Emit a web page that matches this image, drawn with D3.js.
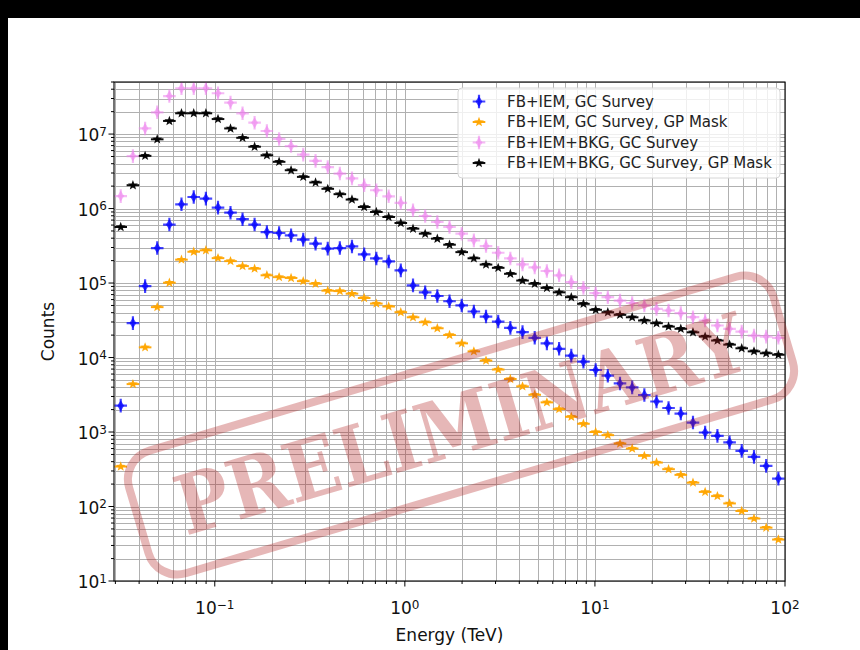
<!DOCTYPE html>
<html>
<head>
<meta charset="utf-8">
<script src="https://cdn.jsdelivr.net/npm/d3@7"></script>
<style>
  html, body { margin: 0; padding: 0; background: #000; }
  svg { display: block; }
</style>
</head>
<body>
<svg id="chart" width="860" height="650"></svg>
<script>
// Bin centres (TeV)
const energy = [0.0320, 0.0371, 0.0430, 0.0498, 0.0577, 0.0668, 0.0775, 0.0898, 0.104, 0.121,
  0.140, 0.162, 0.188, 0.218, 0.252, 0.292, 0.339, 0.393, 0.455, 0.527,
  0.611, 0.708, 0.822, 0.952, 1.104, 1.279, 1.482, 1.718, 1.991, 2.307,
  2.673, 3.098, 3.590, 4.160, 4.822, 5.588, 6.48, 7.51, 8.70, 10.09,
  11.69, 13.55, 15.70, 18.20, 21.09, 24.4, 28.3, 32.8, 38.0, 44.1,
  51.1, 59.2, 68.7, 79.6, 92.3];

// Counts per bin for each configuration
const fbIemGc = [2.26e3, 2.9e4, 9.1e4, 2.95e5, 6.1e5, 1.14e6, 1.43e6, 1.36e6, 1.03e6, 8.8e5,
  7.2e5, 6.1e5, 4.84e5, 4.7e5, 4.37e5, 3.83e5, 3.38e5, 2.9e5, 2.95e5, 3.1e5,
  2.43e5, 2.14e5, 1.95e5, 1.48e5, 9.3e4, 7.5e4, 6.7e4, 5.7e4, 5.0e4, 4.15e4,
  3.55e4, 3.04e4, 2.5e4, 2.19e4, 1.84e4, 1.55e4, 1.31e4, 1.06e4, 8.8e3, 6.8e3,
  5.7e3, 4.49e3, 3.97e3, 3.14e3, 2.57e3, 2.1e3, 1.77e3, 1.34e3, 985, 889,
  727, 558, 464, 351, 237];

const fbIemGcMask = [344, 4.4e3, 1.37e4, 4.75e4, 1.01e5, 2.06e5, 2.63e5, 2.75e5, 2.16e5, 1.97e5,
  1.69e5, 1.56e5, 1.27e5, 1.2e5, 1.17e5, 1.06e5, 9.8e4, 7.9e4, 7.8e4, 7.2e4,
  6.3e4, 5.3e4, 4.84e4, 4.06e4, 3.47e4, 2.98e4, 2.47e4, 2.01e4, 1.55e4, 1.21e4,
  9.1e3, 6.9e3, 5.15e3, 4.1e3, 3.16e3, 2.5e3, 2.03e3, 1.6e3, 1.29e3, 1.0e3,
  908, 700, 600, 479, 389, 317, 266, 209, 157, 138,
  110, 87, 69, 52, 36];

const fbIemBkgGc = [1.47e6, 5.06e6, 1.19e7, 1.96e7, 3.24e7, 4.12e7, 4.12e7, 4.12e7, 3.53e7, 2.64e7,
  1.9e7, 1.42e7, 1.1e7, 8.6e6, 6.9e6, 5.3e6, 4.36e6, 3.6e6, 2.95e6, 2.54e6,
  2.06e6, 1.76e6, 1.46e6, 1.19e6, 9.5e5, 7.95e5, 6.6e5, 5.65e5, 4.6e5, 3.74e5,
  3.14e5, 2.55e5, 2.14e5, 1.78e5, 1.62e5, 1.45e5, 1.27e5, 1.03e5, 8.6e4, 7.3e4,
  6.46e4, 5.8e4, 5.4e4, 5.0e4, 4.5e4, 4.28e4, 3.94e4, 3.48e4, 3.14e4, 2.69e4,
  2.43e4, 2.23e4, 1.97e4, 1.91e4, 1.84e4];

const fbIemBkgGcMask = [5.65e5, 2.06e6, 5.1e6, 8.5e6, 1.5e7, 1.9e7, 1.9e7, 1.9e7, 1.59e7, 1.19e7,
  8.9e6, 6.76e6, 5.2e6, 4.24e6, 3.27e6, 2.66e6, 2.24e6, 1.84e6, 1.56e6, 1.32e6,
  1.05e6, 9.0e5, 7.7e5, 6.4e5, 5.37e5, 4.6e5, 3.94e5, 3.27e5, 2.6e5, 2.15e5,
  1.77e5, 1.6e5, 1.33e5, 1.08e5, 9.8e4, 8.6e4, 7.5e4, 6.46e4, 5.26e4, 4.37e4,
  4.06e4, 3.74e4, 3.47e4, 3.14e4, 2.89e4, 2.6e4, 2.43e4, 2.18e4, 1.91e4, 1.69e4,
  1.49e4, 1.33e4, 1.21e4, 1.14e4, 1.09e4];

const seriesLabels = ["FB+IEM, GC Survey", "FB+IEM, GC Survey, GP Mask",
  "FB+IEM+BKG, GC Survey", "FB+IEM+BKG, GC Survey, GP Mask"];
const xTickExps = [-1, 0, 1, 2];
const yTickExps = [1, 2, 3, 4, 5, 6, 7];
const stampText = "PRELIMINARY";

const svg = d3.select("#chart");
const W = 860, H = 650;
const m = { left: 114, right: 785, top: 82, bottom: 581 };
const font = "'DejaVu Sans', sans-serif";

// figure background
svg.append("rect").attr("width", W).attr("height", H).attr("fill", "#000");
svg.append("rect").attr("x", 8).attr("y", 18).attr("width", W - 8).attr("height", H - 18).attr("fill", "#fff");

const x = d3.scaleLog().domain([0.0295, 100]).range([m.left, m.right]);
const y = d3.scaleLog().domain([10, 5e7]).range([m.bottom, m.top]);

const xMajor = xTickExps.map(e => Math.pow(10, e));
const yMajor = yTickExps.map(e => Math.pow(10, e));
const xMinor = [], yMinor = [];
for (let d = -2; d <= 1; d++) for (let k = 2; k <= 9; k++) {
  const v = k * Math.pow(10, d);
  if (v >= x.domain()[0] && v <= x.domain()[1]) xMinor.push(v);
}
for (let d = 1; d <= 7; d++) for (let k = 2; k <= 9; k++) {
  const v = k * Math.pow(10, d);
  if (v >= y.domain()[0] && v <= y.domain()[1]) yMinor.push(v);
}
if (xMinor.indexOf(0.03) < 0) xMinor.unshift(0.03);

const plot = svg.append("g");
plot.append("defs").append("clipPath").attr("id", "clip")
  .append("rect").attr("x", m.left).attr("y", m.top)
  .attr("width", m.right - m.left).attr("height", m.bottom - m.top);

// grid (major and minor)
const grid = plot.append("g").attr("stroke", "#b0b0b0").attr("stroke-width", 1).attr("fill", "none");
xMajor.concat(xMinor).forEach(v => {
  const px = Math.round(x(v)) + 0.5;
  grid.append("line").attr("x1", px).attr("x2", px).attr("y1", m.top).attr("y2", m.bottom);
});
yMajor.concat(yMinor).forEach(v => {
  const py = Math.round(y(v)) + 0.5;
  grid.append("line").attr("x1", m.left).attr("x2", m.right).attr("y1", py).attr("y2", py);
});

// marker shapes
function diamondCross(g, color, opacity) {
  g.append("path").attr("d", "M0,-5.5L3.4,0L0,5.5L-3.4,0Z").attr("fill", color).attr("opacity", opacity);
  g.append("path").attr("d", "M-6.3,0H6.3M0,-6.8V6.8").attr("stroke", color)
    .attr("stroke-width", 2.2).attr("opacity", opacity);
}
function starPath(ro, ri) {
  const pts = [];
  for (let i = 0; i < 10; i++) {
    const r = i % 2 === 0 ? ro : ri;
    const a = -Math.PI / 2 + i * Math.PI / 5;
    pts.push([r * Math.cos(a), r * Math.sin(a)]);
  }
  return "M" + pts.map(p => p[0].toFixed(2) + "," + p[1].toFixed(2)).join("L") + "Z";
}
function starBar(g, color, opacity) {
  g.append("path").attr("d", "M-6.3,0H6.3").attr("stroke", color).attr("stroke-width", 2)
    .attr("opacity", opacity);
  g.append("path").attr("d", starPath(5.2, 2.2)).attr("fill", color).attr("opacity", opacity);
}

const series = [
  { values: fbIemGc, color: "blue", opacity: 0.72, draw: diamondCross },
  { values: fbIemGcMask, color: "orange", opacity: 0.95, draw: starBar },
  { values: fbIemBkgGc, color: "violet", opacity: 0.55, draw: diamondCross },
  { values: fbIemBkgGcMask, color: "black", opacity: 0.95, draw: starBar }
];

const marks = plot.append("g").attr("clip-path", "url(#clip)");
series.forEach(s => {
  const layer = marks.append("g");
  s.values.forEach((v, i) => {
    const g = layer.append("g").attr("transform", `translate(${x(energy[i])},${y(v)})`);
    s.draw(g, s.color, s.opacity);
  });
});

// axes frame
const axes = svg.append("g").attr("stroke", "#000").attr("fill", "none");
axes.append("rect").attr("x", m.left).attr("y", m.top)
  .attr("width", m.right - m.left).attr("height", m.bottom - m.top).attr("stroke-width", 1.1);

// ticks
const tickG = svg.append("g").attr("stroke", "#000").attr("stroke-width", 1);
xMajor.forEach(v => tickG.append("line").attr("x1", x(v)).attr("x2", x(v)).attr("y1", m.bottom).attr("y2", m.bottom + 5.5));
xMinor.forEach(v => tickG.append("line").attr("x1", x(v)).attr("x2", x(v)).attr("y1", m.bottom).attr("y2", m.bottom + 3));
yMajor.forEach(v => tickG.append("line").attr("x1", m.left).attr("x2", m.left - 5.5).attr("y1", y(v)).attr("y2", y(v)));
yMinor.forEach(v => tickG.append("line").attr("x1", m.left).attr("x2", m.left - 3).attr("y1", y(v)).attr("y2", y(v)));

// tick labels with superscript exponents
function powLabel(sel, exp) {
  sel.append("tspan").text("10");
  sel.append("tspan").attr("dy", "-0.45em").attr("font-size", "12px")
    .text(exp < 0 ? "\u2212" + Math.abs(exp) : String(exp));
}
xTickExps.forEach(e => {
  const t = svg.append("text").attr("x", x(Math.pow(10, e))).attr("y", 614)
    .attr("text-anchor", "middle").attr("font-family", font).attr("font-size", "17px").attr("fill", "#111");
  powLabel(t, e);
});
yTickExps.forEach(e => {
  const t = svg.append("text").attr("x", 107).attr("y", y(Math.pow(10, e)) + 7)
    .attr("text-anchor", "end").attr("font-family", font).attr("font-size", "17px").attr("fill", "#111");
  powLabel(t, e);
});

// axis titles
svg.append("text").attr("x", (m.left + m.right) / 2).attr("y", 641).attr("text-anchor", "middle")
  .attr("font-family", font).attr("font-size", "17px").attr("fill", "#111").text("Energy (TeV)");
svg.append("text").attr("transform", `translate(54,${(m.top + m.bottom) / 2}) rotate(-90)`)
  .attr("text-anchor", "middle").attr("font-family", font).attr("font-size", "17px")
  .attr("fill", "#111").text("Counts");

// legend
const lg = svg.append("g");
lg.append("rect").attr("x", 458).attr("y", 88).attr("width", 322).attr("height", 90).attr("rx", 4)
  .attr("fill", "#fff").attr("fill-opacity", 0.8).attr("stroke", "#d6d6d6").attr("stroke-width", 1);
const rowY = [101.5, 122, 142.5, 163];
series.forEach((s, i) => {
  const g = lg.append("g").attr("transform", `translate(479,${rowY[i]})`);
  s.draw(g, s.color, s.opacity);
  lg.append("text").attr("x", 507).attr("y", rowY[i]).attr("dy", "0.36em")
    .attr("font-family", font).attr("font-size", "15px").attr("fill", "#222").text(seriesLabels[i]);
});

// PRELIMINARY stamp overlay
const stamp = svg.append("g").attr("transform", "translate(461,425) rotate(-16.5)")
  .attr("opacity", 0.32);
stamp.append("rect").attr("x", -336).attr("y", -64).attr("width", 672).attr("height", 128)
  .attr("rx", 30).attr("fill", "none").attr("stroke", "#b22222").attr("stroke-width", 8);
stamp.append("text").attr("x", 0).attr("y", 28).attr("text-anchor", "middle")
  .attr("font-family", "'DejaVu Serif', serif").attr("font-weight", "bold").attr("font-size", "82px")
  .attr("textLength", 590).attr("lengthAdjust", "spacingAndGlyphs")
  .attr("fill", "#b22222").text(stampText);
</script>
</body>
</html>
